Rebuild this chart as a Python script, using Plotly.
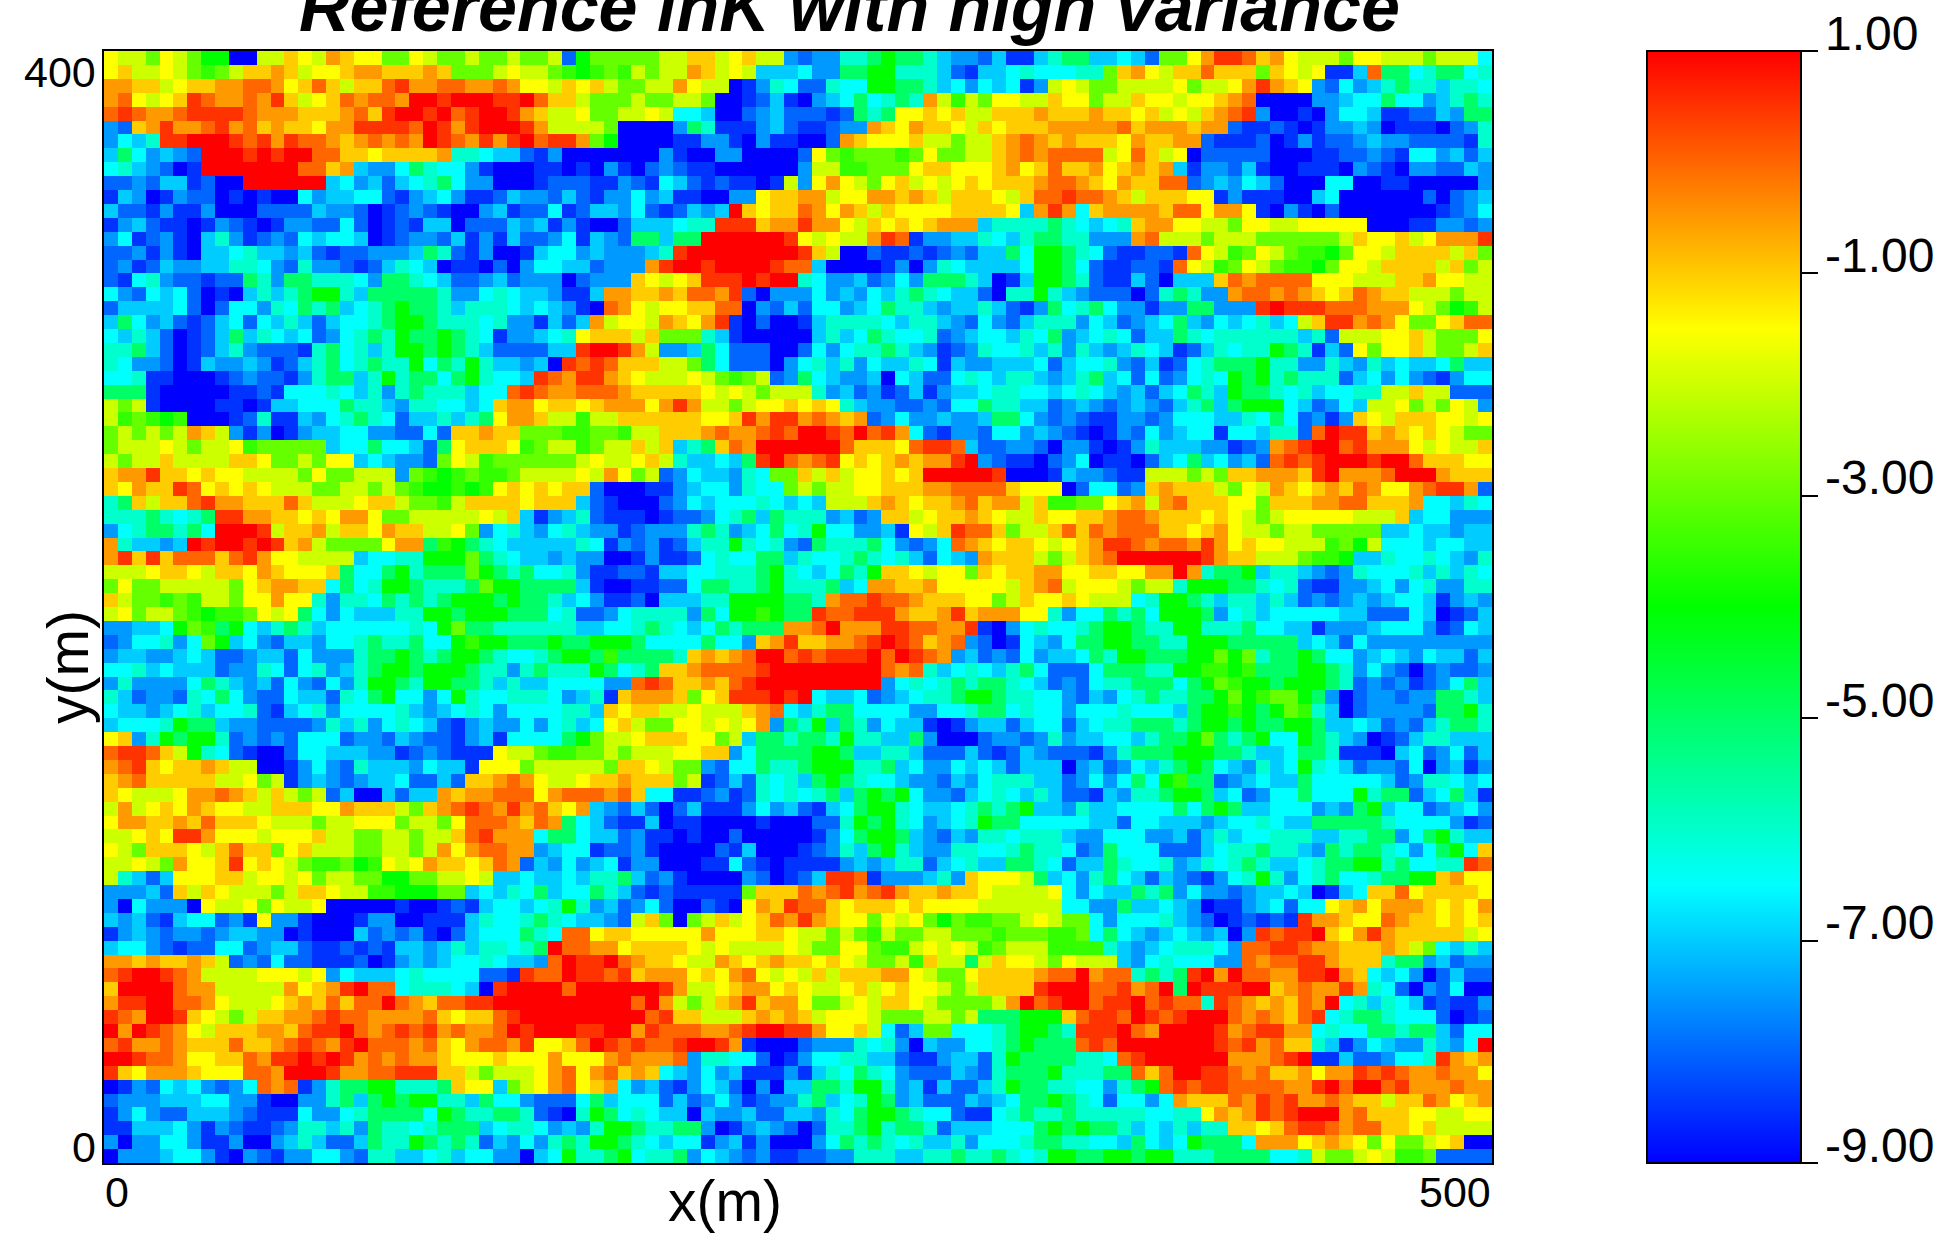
import plotly.graph_objects as go

# Colour-level codes -> lnK value
LEVELS = {"0": -9.0, "d": -8.5, "1": -8.0, "b": -7.5, "2": -7.0, "c": -6.5, "3": -6.0, "4": -5.0,
          "5": -4.0, "g": -3.5, "6": -3.0, "7": -2.0, "y": -1.5, "8": -1.0, "o": -0.5, "9": 0.0,
          "r": 0.5, "a": 1.0}

# Each block: 20 rows of 50 cells, listed from top to bottom, left to right
TOP_LEFT = [
"y776y76550 0778y7o8yy 66y7667667 6671566666 77887y877b",
"y877y76g67 88o87yy8oo 888o86667y 776g5g6g76 77o87y7222",
"oo887y88oo 99oy898788 9roo99oo9o yy78y87667 7oy770db3c",
"o9y7y8r9oo 9or87y89o9 9oaaraaarr a988766676 677600d12d",
"9r9oo9rrrr 9ooo888o98 raara9raar o877y667 7y7cc200 1b21",
"b18oroo9ro 98o88yoorr rr9aroraaa ro77776000 0b43dddb21",
"bc23rraaar 9ror99o8o9 o9oar9oror a9rro65000 0ddbbd0bdd",
"24cb2b1aaa raraa998 8y8888o33c 221db000000 0bd0 0bb0000d0",
"c32b10daa aaaaa998o2 bbc43ccbd0 00dd0d0bd0 1b1dd00000",
"11b1 22d100 aaaaaa2cb2 12c34cbb00 0d111ddb1d c21d1dd0d7",
"d2b0db110d 0d00cb22cc 1db2cbdd12 bb121dbbcb 2dd00bby88",
"2 11db dd b0 00 1111 2bb1 0d1b1d00b2 d11cd122bc 1d12b2a8y8",
"db21dd0db1 d0dbb11c10 d1d22011 12 b2dbd00122 2c33rrr8oo",
"bc d1bd0 2 3b d1b1c2cc20 d1bb12dbd2 11bcd2b144 244aaaaaar",
"11bdbd022c 322b2 1d11b bb243 1db00 d2ccb2bbb2 3raaaaaaaa",
"1bd12bb223 3cb13bb1d1 2 3c20dd010 bcc221bbbo raaraaaar9",
"1dc3b11d11 43b4433 3cb 443c211b21 bbb01bbb8y 7y8rrraraab",
"cb1c2c10d0 23234553 24 44 443bbc3c 22bdd2oo88 o8 99or10bb",
"1222 2c101c cb3c4342c3 4544 3233 3c 2c2bd09oy7 yy8899 0b12",
"24cb21d12c 1c23212cc3 4554333c3b bd212o7yy7 o8yor d010 0",
]
TOP_RIGHT = [
"1bb3345443 2bb12dd234 4 22c216 6y o rr98oy7776y y77 7677 7c3c",
"cbb4455333 2 1d22c3 ccc3 3 68o y7 88 98 8 8 6 8 y 7 y d d 2 9 4 4 c 3 4 4 c 3",
"113cc55443 2cbc2cdb7y 7667777y67 7y o r o 8 y b 1 c b 2 3 4 3 3 2 3 3 c",
"0b2c4c343o 7g76yy7 78y y6778yy7yy 8o90000bb2 cc4cc b2343",
"11d14 3 4 y y 8 y 8 7 7 8 8 8 o 8 8 8 o 8 8 y 8 7 y 7 8 o 9 r b 0 0 d 0 b c c 2 d d 1 1 2 b 4 4",
"dd1bbo8yo8 8y78y888oo oo o 9 8 o o o 8 o o 1 d d 1 d 0 d b b 2 b 0 d d d 0 1 b 3",
"001o8yyy87 7677 8o9o8o 888yo88oo1 dd d10db d11 b2bb1111d3",
"1y6g666g6y 667 78o9o99 99 7y9 87y0 11 1 1 1 0 0 0 d d 1 1 b 1 d c c b 2 1 2",
"b77gg666y8 8yyy8oy89 88 oy8o8o2 db b1 2d00ddd0 b1d0bb112b",
"byo y7 6y 8 7 y 7 y 8 y 8 8 8 o 9 9 o 8 y o 8 8 9 9 1 b 2 b c 2 1 0 0 0 c c 0 0 d d 0 0 0 0 0 b b",
"oo7yyoo8o8 78 88y789 9r 99o87888yy d b d d d 0 0 2 c 0 0 0 0 0 0 1 0 1 b 2",
"9oyo878yyy y8888y2oro c8oooo8 99y oo yd0bd01000 00 0 0d1bcb",
"roo y78y8y8 ooo2333343 c2c38ooyy7 76yy77yyyy y000dd bb1b",
"y7y77or9db b223c23443 3bbbo97776 7776666667 8yy87yooor",
"r87 00 1dd1d 1b1224c55 43 c1dd11d9y7 g6y7 6 g g 5 6 y y 7 8 8 8 8 7 8 6 7 g",
"9200 00 db0b 3c2222c554 c1dd11d9y7 g6y76gg56y y7 888 8 7 8 6 7 g",
"3cbb21bcb4 4432 0d2554 31dd210 222 8 9 o 9 9 9 9 y y y 7 7 7 8 8 o y y 7 7",
"bcb2bc2343 c2210 33532 b1110134 3b bo99o9o8y8 9o88777677",
"1ccb2c4332 b223 2 1db4c 3 4 c b b d b b 4 4 b b b r a r r r 9 9 9 o o o y 7 6 5 g 7 8 9",
"d233 33c233 2b1cb123 33 b c 2 1 b 2 c 4 2 b c 2 c 3 2 c 7 8 r r o 9 o y 6 6 y 8 9 9",
]
MID_LEFT = [
"c232 10d 124 23 c2c1bc34 3 5 4 4 5 4 3 c d b b 2 c 3 y 8 8 8 7 8 6 6 6 3 2 d 0 0 0 0",
"3 3 4 2 1 0 d 1 2 3 b 1 1 1 d 3 4 c 3 2 3 5 5 4 5 4 3 2 1 1 1 1 2 2 r a a r o 7 b b 2 4 c 1 1 1 0 0",
"3cbb10d2bb 2bd123 4c34 335c435322 b20r9r988 8 7 7 6 4 c 1 1 1 0 b",
"cc3dd0 00d1 b11db344 23 53 44c453cc 2r9orro8y7 7 7 y 7 6 g 6 7 1 b",
"444d00000d d1dccc3c23 b343332cc9 r9oo999o88 888y7y7677",
"767d0000dd 0d22ccc433 2b33cc2c8o oy88y8ooo y or o 7 7 6 7 y y 8",
"7g6g5g000d 13dd2bc343 c1223234yo o877g778 88 8 8 8 y y 8 r o r r",
"6767 67o87b d b0db22ccb b1 1c188o8 8 6 6 6 g g 6 6 g 7 7 8 8 8 o 9 o o 9 r 9 r",
"67 7 7 y 7 6 7 7 y g 6 6 6 6 6 2 c c 4 c c 2 1 4 y 8 8 8 y g 6 7 7 g 6 7 7 8 7 8 2 3 4 8 9 o a a a",
"7677 87 7 7 7 8 8 y 6 6 7 6 y y 2 c 2 b b 1 6 y 7 g 6 6 6 6 6 6 7 y 7 7 y 8 7 3 2 2 c 2 4 r a 9",
"8oor88y8yy 7777 6y6677 7b6g5g6gg6 7777y7oy67 1bc22b3c66",
"8yo88r9y8y 8y77766776 7 6 g 5 5 g 5 g y 8 y 8 y 8 8 1 0 0 0 d d b 2 c c b 3 c c 6",
"3 4 8 7 8 8 9 r o o 8 8 8 9 8 7 7 7 y 8 8 7 6 6 g 7 8 8 8 8 y 8 8 8 2 1 d 0 0 0 1 b c 2 c c c 3 c 2",
"3334 3c34rr oo88y8yooy 6677777y78 2db231ddd0 d11bc342 43",
"bc3443 4caa ar788o788y o8877y6bc3 2bc32bbd1b bb343b2c4c",
"o322b2ara a rar8o76666 yoo4g5 43 c2 2222 3cdb1b d123 35 3c3b",
"or8r899989 roy y7777 2cc33555 6 4 3 c 2 2 b 2 b b 0 0 d b d d 1 c 3 c c 4 4 2",
"7 7 7 y 8 8 y 7 8 8 y o 8 y y y 8 4 c c 4 5 3 4 4 4 6 5 4 3 4 c c 3 b d d 1 1 d 2 2 c c 3 3 3 4 5 3",
"6y667 7 7 7 7 6 y 8 o o 8 8 c 4 c 3 5 5 4 3 3 3 4 6 5 5 4 4 4 4 2 d 0 0 d d 1 1 c 4 4 3 3 4 5 3",
"8766g6g776 yyoyy3b33c 4343 4555 45 4 4 3 2 c b d d 1 0 2 2 2 3 3 5 5 5 5 4",
]
MID_RIGHT = [
"0232c 4 3 c c 3 1 b 2 c c 2 3 c 4 b 2 c 3 c 1 2 2 4 3 c 3 3 3 3 3 3 2 3 1 7 7 7 y y 8 7 6 6 6 y 8",
"1cbc3343 2b d1b3cc323b 3 2 b 2 3 c 2 d 1 2 3 c 3 3 5 4 3 d 2 1 y 6 y y 8 7 6 6 7 8",
"c323bc2 23c d2bb222c12 c c 3 b 1 2 d 1 c 3 4 4 4 5 3 3 b b 3 2 b 3 2 c 2 2 c 4 2 2",
"4c2bb20c21 1c3c2332b2 342c1c1bc3 c5453 43331 2cbcb1dbcc",
"7 3 b 2 1 b d 1 2 d b 2 2 c 3 3 c c 2 c 3 c 2 b 2 1 2 c 4 3 2 5 4 4 3 c 3 2 c c 3 3 7 7 8 7 7 1 1 1",
"y8y32bb11b 1cc4332 21b 2b1b2b1234 24555c21bc 2 7 7 y 6 7 6 y 7 b",
"o9o8o1bcbb 2bb244cb1b 1ddbb1bccc 223c4c1bdb 8y7888yy7y",
"aar9a9roc1 dbb1ccb2b1 d0db1cb2cc dcc2331 9ar r8o8y8y766",
"aaa9888y9r r9211bb10b bd0db3222b bd1bo9raa9 roooy7y778",
"o9ry8y8o8o or a b1dd01b c0dd01 2c4 2 c b 2 1 9 r 9 r a a a r a a 9 8 8 8 y y",
"87 8 7 y y 8 y 8 a a a a a r 0 0 0 d 2 b b 1 d d 7 7 7 6 7 6 8 8 o o o 8 r a o o o 9 a a a o 8 8 8",
"767 7 y y 8 8 8 o o 9 9 9 9 8 y y y 0 1 c c 1 b 8 o 8 8 8 7 6 y 7 o 8 y 8 o 8 9 o y y o 9 r r o 1 2",
"c277 78o8y8 8o98oo78gg 66y8o7o988 8yy6888oo9 9888oc c23c",
"33b21b887y 88o8y778yy 88o99o888y 8y76 7yyyyy 777 8 2 c c b b b",
"3 5 c c b b 2 d y 7 8 r 9 9 8 6 7 7 8 9 8 9 o 9 9 9 8 8 y 8 o y 7 7 6 7 7 6 6 6 6 6 2 2 c 2 2 b 2 2",
"1 4 3 3 3 4 c b 1 b c 9 o 8 y 8 8 y 7 y 8 o r r 9 o 9 9 o r o y 8 y y 7 7 7 g 6 5 7 c c c 2 c c 2 2",
"3cc343c321 c2bo88 8767 8o9aaaaaar o88777 6gg5 223cc3c2b3",
"c2c4358 8y7 yy68y 88ooy y88yyoo a o 3 4 4 5 2 3 3 2 b 1 b 3 c c c 3 2 3 2 3 c",
"3342co o88 o yyyyy78o97 yyy 7677 3555 443 c 3 1 d d b b 2 c b c 3 b b 3 3 b",
"43o99r99o8 88yy678yy8 y7 77c35543 233 2 3 2 1 b 1 b 2 b 2 c c 2 d b 2 b",
]
LOW_LEFT = [
"7y677 6g5gg 6y7y4cb c22 2 3 3 5 5 4 5 5 5 4 4 4 c 3 1 1 b c 3 3 3 3 b 4 c 5 5 g 5 4",
"bb22c56g45 c2343 2cccc cc3c5644 33 3333 22cc34 3c2c4344 4o",
"1bcc3bc652 cb122bcc34 334cc5g554 4454455 54c ccc4ccb8orr",
"b22bb2c211 b22 1cbbb34 4 5 4 3 4 5 5 4 3 c c 3 4 5 5 4 g 4 4 4 4 3 8 o 8 o 9 a a 9",
"cc32c222 1b b3c1c3b234 5545554 33 b34 33 3 5 4 c 3 4 8 8 o 9 9 9 9 r a a",
"b3bbbbc432 b21cb1cb3 55 4 3 5 5 4 4 3 2 3 2 2 c c c c b b 9 r 9 8 8 o 8 9 r a a",
"321bb13c4c b11c221 3c4 5cc bc53cc3 33 c b 2 3 d 8 o o o 8 6 y 8 r r r a r",
"c22b2c32cc 31d2c3bccc c3 2b2c3cb c ccc 33 2 8 y 8 8 7 7 y 7 7 7 8 o 9 c",
"2ccc3544 2b b1111b323b c3c21db2bb c b c 3 2 c y 8 7 6 6 y y 7 y 7 y o b 4",
"y8b3 5 4 5 5 3 1 b 1 b 1 c c c 1 b b 1 2 b 1 1 d b 2 d c c c c 4 5 6 7 7 y 8 8 8 y y 6 7 2 4 4 3",
"9rr987 53c1 d001cc222b bd1b1ddd y 7 7 6 g g 6 6 7 6 7 7 7 y y 8 8 b c 4 4 4",
"o9r8y88o87 700db c b1 3 2 2 2 b c 2 2 d y y y 6 7 7 7 7 7 6 8 8 y 7 6 6 b 1 c c 4 3 3",
"8o98888877 y67db2b1b2 2c1121 88o9 oy77y8 8 o 8 8 8 6 7 d 1 2 1 3 c 3 c",
"8y777yoo9o 87876712 00 21 22o8oo99 9yo999o98c cdd1bd13c3",
"7o7y8yo8yy 7788 8yyo88 8768o9r9or o98yo2b121 012ddd bcb2",
"yoo88o898 8 8y7 7 7 6 7 7 y y y 6 7 7 6 y 9 9 9 o 8 9 o 4 c 2 1 d d 2 0 d d 0 0 0 0 d 0 0",
"7 7 y 8 y r r o y y y 7 y y y 8 7 7 6 6 7 7 6 7 7 8 9 r o o o c 4 4 c 2 2 1 b d d 0 d 0 0 1 0 0 0 0",
"y7688 8y78 9 8 8 6 y 8 7 7 7 6 6 7 7 6 7 o y o 9 9 o o b 2 c c d 1 1 b d 0 0 0 0 1 d 2 0 0 0",
"77y76oyy8r y8y76gg65g y7yo88y89o 12bcb2cdbb 000ddc1d0d",
"7321 2yyy88 7yy7y67766 5566 77y722 c22c2 3342 1 b d 0 0 0 0 b 1 0 d",
]
LOW_RIGHT = [
"4r99rrro88 or8ooo yy3b cc434c5554 bc32ccccc2 2111c20d12",
"o9aooorr99 oord0bc3cc 3455 433553 33 4cc22dbb b2ccc b d 1 c 2",
"88oo9ra r98 o9b10dc2bc 44554433 55 5 4 4 4 4 4 2 c 2 1 c b b b b b b b b b",
"r9rrra9a r9 ob21b1cb22 c4355444 55 656 3445 4cc b2c2bc 2212",
"aaaaaa9o93 2c3c234c11 1c44433 55g g5g44 4554 3b cb1 01b11b",
"aaaaaabc3c 34344 3c 2 1 b 1 c 3 3 4 4 4 c 4 5 6 g 5 5 4 5 5 5 4 3 1 b 1 b d 1 b c 4 2",
"ac22c1b2c3 34554 33ccb 12bc343 3 4 4 5 6 5 g 6 6 5 4 b 0 1 b b 1 b b 4 4 3 2",
"2344 cccc bb cc344c3ccb cc c 3 c c c 2 4 5 5 g 5 4 5 6 g 3 2 0 1 b b b b 1 4 4 5 3",
"3524 3bc22d 0db221 2cc1 2c33 4 4 4 3 4 5 5 4 5 4 4 5 5 4 2 2 c 2 1 b 1 2 3 4 4 3",
"4435 3322 4b 000 1bb1b3b 22cc2 344 56 4 3 4 5 c c 5 4 3 2 b 0 d 1 2 3 3 2 2 2",
"4554 2 2 3 3 2 1 1 1 2 1 d 1 2 b 1 1 1 d b 3 4 4 4 5 5 5 4 4 3 2 2 c 4 4 3 d d d 0 2 c 1 b c 1 2",
"4555 33 42cb bc2c212 220 b21bc2345 4 c 2 b 3 2 c 5 3 c 2 1 b b 1 c 0 b 2 d b",
"2454 3cc2bb 12bc 333 221 bcbc4c5g44 1b2c22 4ccc cc21b33c2c",
"c34 245 45cb b12c3c232 1 1d2b3345 5 4 2 c 1 b c c 4 c c c 5 3 4 4 1 2 c 4 2 d",
"1d2c45 53c2 2c34 34522b 3 2 2 c c c c 4 c 4 5 4 2 2 c c c b 2 b 4 5 2 c c 1 b 2 c b 0",
"0113 5 4 5 3 c b 2 c 3 5 4 4 c c c c c 2 2 1 c c 2 2 2 b 2 c c 3 c 2 2 4 4 4 4 4 3 c c c c b d 1",
"0dbc45 54 2b 12b33c333 2 b b c c c b b 2 1 2 3 2 c c 3 3 3 2 2 3 3 4 4 b c 4 5 3 2 2",
"d1b3 2 4 5 3 2 b b 3 3 c c 3 4 3 3 c 1 b 4 c c c 1 1 1 2 c 3 3 4 3 3 2 b 4 3 4 4 3 c b c 4 5 c 8",
"dddb2b2331 2c3224 43c1 224 3cc3b2 3 c 3 4 3 2 2 c 3 4 4 5 5 3 4 c c 3 3 r 9",
"12rr9dbbb2 3b8yyy7 42c b34c21 2b1d bc353bc3 4c c3 44 55 8oyy",
]
BOTTOM_LEFT = [
"bbb21 87 8y7 77 67 88y77 g g 5 5 5 6 6 2 c 2 3 c 4 2 c c 4 3 2 1 d 1 d d d d d 6 8 8 8",
"b0cbbb0y77 y6y77y0000 0d00d1d2cc 2c353b21bc 1001d0yo8r",
"2b21d2cc1b dybbd000db b00ddd23cc 343c22b178 6067 87y89o",
"db2b1bb1b2 2bb0d00021 b1bd012ccc 43c9 9y88yy yyyoyyy88y",
"2ccb1d11cc 1b221dd1d1 d22b23 2 3 3 c 3 4 a 9 9 o o y 8 8 8 8 y 7 y 7 7 7 7 y",
"oo8o88o871 b1c11ddd10 db2b2cc3c2 2b9arra9o8 8y77o8y8o8",
"9raar9o777 7yyy7yb c22 2c3cccc11d r99arr9r8o ooy8yo9y7y",
"8aaaa9oo77 777oy8or a9 9c333c20ra aaa9aaaaaa ro77y8oo y8",
"orraa99oy7 77y8o89899 a9o8 99rraa aaaaaaaa9a o7678or8oo",
"r9oaar8y76 78 8oo9r99o ooo98y889r aaaaaaaaa9 r88777 8o8o",
"aoar9oy788 8oo89rra9o 9r9ro9oo9a raaarraaor 999oo9raar",
"9roo9o8889 88o9r9or a9 99o98yo99o ryy89ar9r9 9raaro d000",
"aar99oyy88 9orrarar o9 o9oo8yyy8y yyoyyyo9oo o9b33cc10d",
"r8yooo8yyy 99oaaaroo9 9rrr887677 7yo9yo98o8 c2bcb2ddd b",
"0db1c2cb1b c9o9db3445 5333 48yy26 7yo9y8oc b2 1dbc210b02",
"1bbb222ccb bd00bb3424 5455332 4cc b111c4 2ccc 121bcbd1bb",
"dbcb11222b 1dddcbbc34 4 4 4 c 5 4 3 3 4 4 3 1 d 0 3 5 4 c 3 c 2 2 0 2 b b 2 1 1 2",
"dd222cbdb1 dd1b332 3b4 33c3444 2c3 3cb2b3554 3 3 4 4 b 0 d b 2 b 1",
"b0bbccbddb 00b2321124 3 3 5 4 3 4 3 1 2 b c b 3 4 3 5 5 4 3 c 2 c c d b 2 d b 0 0",
"0bbb2ccbd0 b1dbbccb13 322c32ccbb 02c5334 5c3 34bc2b1bdd",
]
BOTTOM_RIGHT = [
"9o9ro9ro88 o88y777 7yc bc2243 4 b c b b 1 b 2 2 c 2 0 d 2 c 8 8 9 y 8 8 8 8 y 6 7",
"998y888y8y yyy777777c cbb42 2c2b0 dd b2c1cc y8 oyoo o8y8yo",
"ro8yy6y7y6 56gg667y76 6cbccc32b1 0d1d1dro o8 yy9o88y8y8",
"7767 6g766 7 766 6g666gg 6c4c2b2c2b 20b r9rra8y or o88888 7y",
"766yy6gg7y 7y7g6777gg gg32b2c333 cb99rr9oo8 88o876c232",
"8y8y7667g8 774 78yy76y 7772bc3ccc bb9o99rro8 88344b21bb",
"7878 88oo y7 66y8888o99 ao993434raoa99oorra o8c2cb01 21",
"y77y87y8yy 7678888raa a99ro9a4ar rraa8o9oor o3c10b1c00",
"y667y788y7 66667oa9ra a9rra9r993 r9o8o89oa c 3 2 3 c 2 d 1 d d b",
"87yyy76667 7674445 558 9rr9ar9raa a9o9o89r c 3 4 4 3 c c c 1 0 d 1",
"ro yy87c126 6ccc34554 3rrra9oaa aa ro9rro oc3cc4434 4 2 1 c",
"1bbb3c3b02 bbcc34544 49r9aaaaaaa r9ro988 32d bc2bb32bca",
"bcc3322 1dd b221354444 33c9raaaaa aoo o9ra dd2 11bcc3ro8o",
"d23c43 cb11 12b1344453 3344989aar r9o988oyoo r9r9oo9ooy",
"2443 553b2d 2112354433 ccb345 9r9r r9999oora9 aa9roo o9oo",
"342c354b21 112b2c4454 3c1ccb c o88 8 9 o r 9 r o o 9 o 8 8 7 8 8 9 o y 8 o",
"2b3c45543c c1ddc34334 3333 3cc33y o8or9raaa o988 8yy77yy",
"013345344 3 1222ccc4 545 4 4 3 2 c 2 3 2 3 3 8 8 y 8 9 r r 9 o 9 9 8 8 y 8 7 7 7 7 8",
"0bc4343c32 23bccc3443 3cc24c2c54 44cooo y8o8 y6y667y80",
"11bb333223 3433 43c355 44554 55333 4444cc3766 7y7gg61111",
]

X_TICKS = [0, 500]
Y_TICKS = [0, 400]
CB_TICKS = [1, -1, -3, -5, -7, -9]
CB_TEXT = ["1.00", "-1.00", "-3.00", "-5.00", "-7.00", "-9.00"]
TITLE = "Reference lnK with high variance"
CELL = 5.0
W, H = 1958, 1245
ZMIN, ZMAX = -9, 1
TOP, BOTTOM = 51, 1163


def cells(s):
    s = s.replace(" ", "")
    return (s + s[-1] * 50)[:50]


rows = []
for left, right in ((TOP_LEFT, TOP_RIGHT), (MID_LEFT, MID_RIGHT), (LOW_LEFT, LOW_RIGHT), (BOTTOM_LEFT, BOTTOM_RIGHT)):
    for a, b in zip(left, right):
        rows.append([LEVELS[c] for c in cells(a) + cells(b)])
z = rows[::-1]

fig = go.Figure(go.Heatmap(
    z=z, x0=CELL / 2, dx=CELL, y0=CELL / 2, dy=CELL, zmin=ZMIN, zmax=ZMAX, zsmooth=False,
    colorscale=[[0, "#0000ff"], [0.25, "#00ffff"], [0.5, "#00ff00"], [0.75, "#ffff00"], [1, "#ff0000"]],
    colorbar=dict(
        x=1647 / W, xanchor="left", thickness=154, thicknessmode="pixels",
        len=(BOTTOM - TOP) / H, lenmode="fraction", y=1 - (TOP + BOTTOM) / 2 / H, yanchor="middle",
        outlinecolor="black", outlinewidth=2, xpad=0, ypad=0,
        tickmode="array", tickvals=CB_TICKS, ticktext=[""] * len(CB_TICKS), ticks="outside", ticklen=16,
        tickwidth=2, tickcolor="black",
    ),
))

ax = dict(showgrid=False, zeroline=False, ticks="", showticklabels=False, showline=True,
          mirror=True, linecolor="black", linewidth=2)
fig.update_layout(
    width=W, height=H, margin=dict(l=0, r=0, t=0, b=0), autosize=False,
    paper_bgcolor="white", plot_bgcolor="white",
    xaxis=dict(domain=[104 / W, 1492 / W], range=X_TICKS, **ax),
    yaxis=dict(domain=[1 - BOTTOM / H, 1 - TOP / H], range=Y_TICKS, **ax),
)

font = dict(family="Liberation Sans", color="black")
ann = [
    dict(x=849 / W, y=1 - 47 / H, text=f"<b><i>{TITLE}</i></b>", xref="paper", yref="paper",
         xanchor="center", yanchor="bottom", font=dict(size=70, **font)),
    dict(x=725 / W, y=1 - 1201 / H, text="x(m)", xref="paper", yref="paper",
         xanchor="center", yanchor="middle", font=dict(size=57, **font)),
    dict(x=68 / W, y=1 - 667 / H, text="y(m)", xref="paper", yref="paper", textangle=-90,
         xanchor="center", yanchor="middle", font=dict(size=57, **font)),
    dict(x=X_TICKS[0], y=1 - 1192 / H, text=str(X_TICKS[0]), xref="x", yref="paper",
         xanchor="left", yanchor="middle", font=dict(size=43, **font)),
    dict(x=X_TICKS[1], y=1 - 1192 / H, text=str(X_TICKS[1]), xref="x", yref="paper",
         xanchor="right", yanchor="middle", font=dict(size=43, **font)),
    dict(x=97 / W, y=Y_TICKS[1], text=str(Y_TICKS[1]), xref="paper", yref="y", yshift=-21,
         xanchor="right", yanchor="middle", font=dict(size=43, **font)),
    dict(x=97 / W, y=Y_TICKS[0], text=str(Y_TICKS[0]), xref="paper", yref="y", yshift=16,
         xanchor="right", yanchor="middle", font=dict(size=43, **font)),
]
for value, label in zip(CB_TICKS, CB_TEXT):
    tick_px = TOP + (ZMAX - value) / (ZMAX - ZMIN) * (BOTTOM - TOP)
    ann.append(dict(x=1824 / W, y=1 - (tick_px - 18) / H, text=label, xref="paper", yref="paper",
                    xanchor="left", yanchor="middle", font=dict(size=48, **font)))
fig.update_layout(annotations=[dict(showarrow=False, borderpad=0, **a) for a in ann])
fig.write_html("out.html", config={"displayModeBar": False},
               post_script="document.body.style.margin='0';document.documentElement.style.overflow='hidden';")
